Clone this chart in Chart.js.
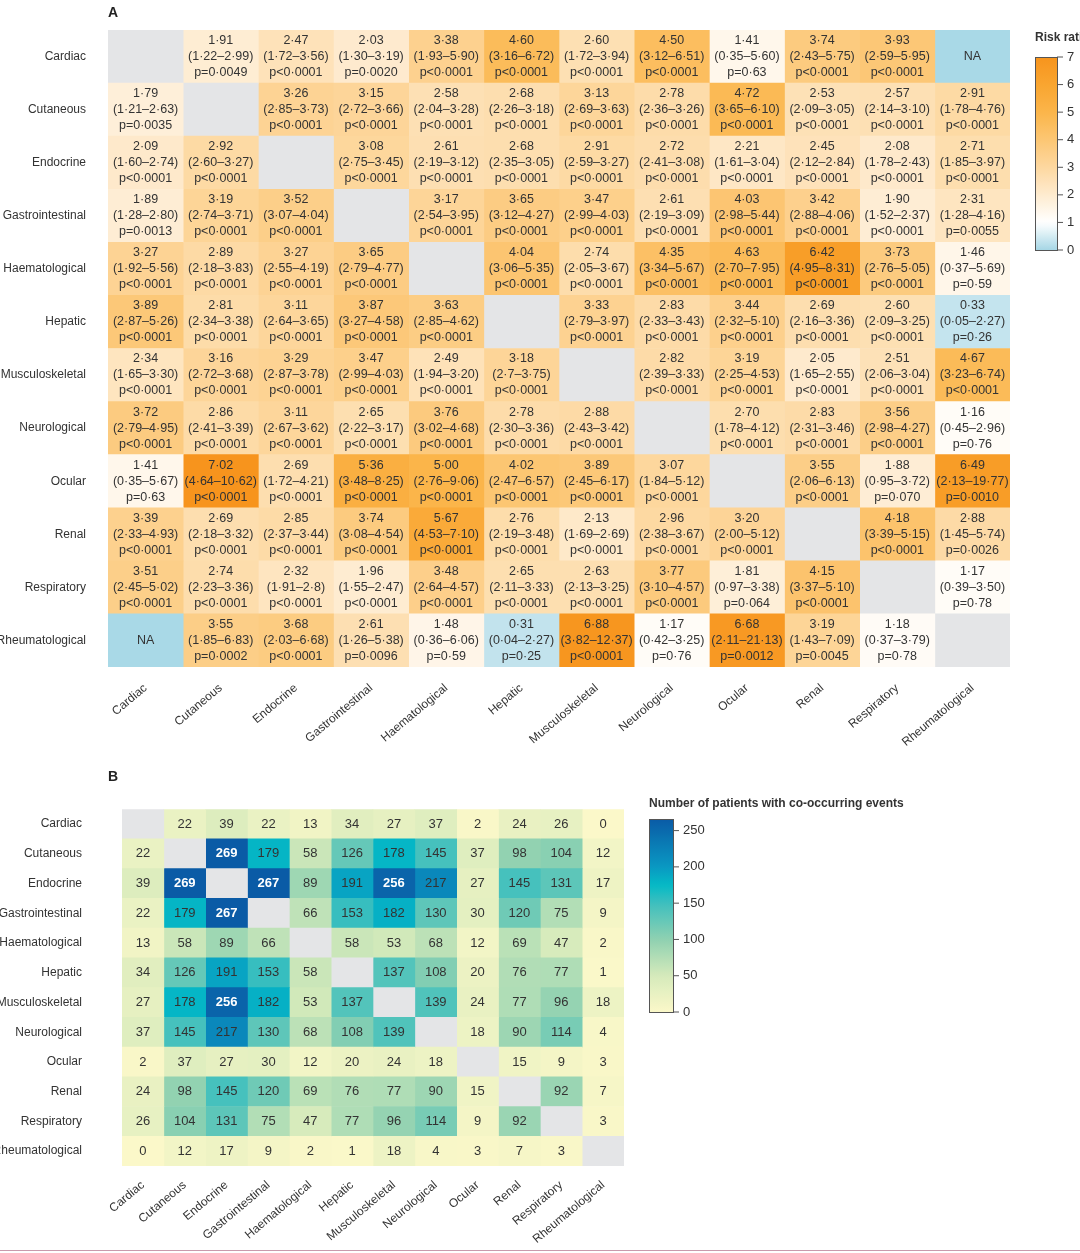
<!DOCTYPE html>
<html>
<head>
<meta charset="utf-8">
<script src="https://cdn.jsdelivr.net/npm/chart.js@4.4.1/dist/chart.umd.min.js"></script>
<style>
  body { margin: 0; background: #fff; width: 1080px; height: 1253px; position: relative; overflow: hidden; }
  canvas { position: absolute; left: 0; }
  #cA { top: 0; }
  #cB { top: 770px; }
  #rule { position: absolute; left: 0; top: 1250px; width: 1080px; height: 1px; background: #c99aac; }
</style>
</head>
<body>
<canvas id="cA" width="1080" height="760" style="width:1080px;height:760px"></canvas>
<canvas id="cB" width="1080" height="483" style="width:1080px;height:483px"></canvas>
<div id="rule"></div>
<script>
const organs = ["Cardiac", "Cutaneous", "Endocrine", "Gastrointestinal", "Haematological", "Hepatic",
    "Musculoskeletal", "Neurological", "Ocular", "Renal", "Respiratory", "Rheumatological"];

// Panel A: risk ratios, 95% CI and p values (row = organ, column = co-occurring organ); null = diagonal, "NA" = not available
const LT = "p<0·0001";
const riskRatio = [
    [null, "1·91", "2·47", "2·03", "3·38", "4·60", "2·60", "4·50", "1·41", "3·74", "3·93", "NA"],
    ["1·79", null, "3·26", "3·15", "2·58", "2·68", "3·13", "2·78", "4·72", "2·53", "2·57", "2·91"],
    ["2·09", "2·92", null, "3·08", "2·61", "2·68", "2·91", "2·72", "2·21", "2·45", "2·08", "2·71"],
    ["1·89", "3·19", "3·52", null, "3·17", "3·65", "3·47", "2·61", "4·03", "3·42", "1·90", "2·31"],
    ["3·27", "2·89", "3·27", "3·65", null, "4·04", "2·74", "4·35", "4·63", "6·42", "3·73", "1·46"],
    ["3·89", "2·81", "3·11", "3·87", "3·63", null, "3·33", "2·83", "3·44", "2·69", "2·60", "0·33"],
    ["2·34", "3·16", "3·29", "3·47", "2·49", "3·18", null, "2·82", "3·19", "2·05", "2·51", "4·67"],
    ["3·72", "2·86", "3·11", "2·65", "3·76", "2·78", "2·88", null, "2·70", "2·83", "3·56", "1·16"],
    ["1·41", "7·02", "2·69", "5·36", "5·00", "4·02", "3·89", "3·07", null, "3·55", "1·88", "6·49"],
    ["3·39", "2·69", "2·85", "3·74", "5·67", "2·76", "2·13", "2·96", "3·20", null, "4·18", "2·88"],
    ["3·51", "2·74", "2·32", "1·96", "3·48", "2·65", "2·63", "3·77", "1·81", "4·15", null, "1·17"],
    ["NA", "3·55", "3·68", "2·61", "1·48", "0·31", "6·88", "1·17", "6·68", "3·19", "1·18", null]
];
const riskCI = [
    [null, "1·22–2·99", "1·72–3·56", "1·30–3·19", "1·93–5·90", "3·16–6·72", "1·72–3·94", "3·12–6·51", "0·35–5·60", "2·43–5·75", "2·59–5·95", null],
    ["1·21–2·63", null, "2·85–3·73", "2·72–3·66", "2·04–3·28", "2·26–3·18", "2·69–3·63", "2·36–3·26", "3·65–6·10", "2·09–3·05", "2·14–3·10", "1·78–4·76"],
    ["1·60–2·74", "2·60–3·27", null, "2·75–3·45", "2·19–3·12", "2·35–3·05", "2·59–3·27", "2·41–3·08", "1·61–3·04", "2·12–2·84", "1·78–2·43", "1·85–3·97"],
    ["1·28–2·80", "2·74–3·71", "3·07–4·04", null, "2·54–3·95", "3·12–4·27", "2·99–4·03", "2·19–3·09", "2·98–5·44", "2·88–4·06", "1·52–2·37", "1·28–4·16"],
    ["1·92–5·56", "2·18–3·83", "2·55–4·19", "2·79–4·77", null, "3·06–5·35", "2·05–3·67", "3·34–5·67", "2·70–7·95", "4·95–8·31", "2·76–5·05", "0·37–5·69"],
    ["2·87–5·26", "2·34–3·38", "2·64–3·65", "3·27–4·58", "2·85–4·62", null, "2·79–3·97", "2·33–3·43", "2·32–5·10", "2·16–3·36", "2·09–3·25", "0·05–2·27"],
    ["1·65–3·30", "2·72–3·68", "2·87–3·78", "2·99–4·03", "1·94–3·20", "2·7–3·75", null, "2·39–3·33", "2·25–4·53", "1·65–2·55", "2·06–3·04", "3·23–6·74"],
    ["2·79–4·95", "2·41–3·39", "2·67–3·62", "2·22–3·17", "3·02–4·68", "2·30–3·36", "2·43–3·42", null, "1·78–4·12", "2·31–3·46", "2·98–4·27", "0·45–2·96"],
    ["0·35–5·67", "4·64–10·62", "1·72–4·21", "3·48–8·25", "2·76–9·06", "2·47–6·57", "2·45–6·17", "1·84–5·12", null, "2·06–6·13", "0·95–3·72", "2·13–19·77"],
    ["2·33–4·93", "2·18–3·32", "2·37–3·44", "3·08–4·54", "4·53–7·10", "2·19–3·48", "1·69–2·69", "2·38–3·67", "2·00–5·12", null, "3·39–5·15", "1·45–5·74"],
    ["2·45–5·02", "2·23–3·36", "1·91–2·8", "1·55–2·47", "2·64–4·57", "2·11–3·33", "2·13–3·25", "3·10–4·57", "0·97–3·38", "3·37–5·10", null, "0·39–3·50"],
    [null, "1·85–6·83", "2·03–6·68", "1·26–5·38", "0·36–6·06", "0·04–2·27", "3·82–12·37", "0·42–3·25", "2·11–21·13", "1·43–7·09", "0·37–3·79", null]
];
const riskP = [
    [null, "p=0·0049", LT, "p=0·0020", LT, LT, LT, LT, "p=0·63", LT, LT, null],
    ["p=0·0035", null, LT, LT, LT, LT, LT, LT, LT, LT, LT, LT],
    [LT, LT, null, LT, LT, LT, LT, LT, LT, LT, LT, LT],
    ["p=0·0013", LT, LT, null, LT, LT, LT, LT, LT, LT, LT, "p=0·0055"],
    [LT, LT, LT, LT, null, LT, LT, LT, LT, LT, LT, "p=0·59"],
    [LT, LT, LT, LT, LT, null, LT, LT, LT, LT, LT, "p=0·26"],
    [LT, LT, LT, LT, LT, LT, null, LT, LT, LT, LT, LT],
    [LT, LT, LT, LT, LT, LT, LT, null, LT, LT, LT, "p=0·76"],
    ["p=0·63", LT, LT, LT, LT, LT, LT, LT, null, LT, "p=0·070", "p=0·0010"],
    [LT, LT, LT, LT, LT, LT, LT, LT, LT, null, LT, "p=0·0026"],
    [LT, LT, LT, LT, LT, LT, LT, LT, "p=0·064", LT, null, "p=0·78"],
    [null, "p=0·0002", LT, "p=0·0096", "p=0·59", "p=0·25", LT, "p=0·76", "p=0·0012", "p=0·0045", "p=0·78", null]
];

// Panel B: number of patients with co-occurring events
const coCounts = [
    [null, 22, 39, 22, 13, 34, 27, 37, 2, 24, 26, 0],
    [22, null, 269, 179, 58, 126, 178, 145, 37, 98, 104, 12],
    [39, 269, null, 267, 89, 191, 256, 217, 27, 145, 131, 17],
    [22, 179, 267, null, 66, 153, 182, 130, 30, 120, 75, 9],
    [13, 58, 89, 66, null, 58, 53, 68, 12, 69, 47, 2],
    [34, 126, 191, 153, 58, null, 137, 108, 20, 76, 77, 1],
    [27, 178, 256, 182, 53, 137, null, 139, 24, 77, 96, 18],
    [37, 145, 217, 130, 68, 108, 139, null, 18, 90, 114, 4],
    [2, 37, 27, 30, 12, 20, 24, 18, null, 15, 9, 3],
    [24, 98, 145, 120, 69, 76, 77, 90, 15, null, 92, 7],
    [26, 104, 131, 75, 47, 77, 96, 114, 9, 92, null, 3],
    [0, 12, 17, 9, 2, 1, 18, 4, 3, 7, 3, null]
];

const riskTicks = [0, 1, 2, 3, 4, 5, 6, 7];
const countTicks = [0, 50, 100, 150, 200, 250];

const DIAG = "#e4e5e7";
const NA_COL = "#a9d9e7";
const riskStops = [[0, "#a6d6e5"], [0.7, "#e6f4f8"], [1, "#ffffff"], [2, "#feebcf"], [3, "#fdd8a0"],
    [4, "#fcc673"], [5, "#fbb54a"], [6, "#f9a530"], [7, "#f7941d"]];
const countStops = [[0, "#fbf8c9"], [50, "#d5eabb"], [100, "#8fd1b1"], [150, "#3ebfbe"], [175, "#04bac6"],
    [200, "#0a98c2"], [266, "#0a5ba6"]];

function hex(c) { return [1, 3, 5].map(i => parseInt(c.slice(i, i + 2), 16)); }
function colorAt(stops, v) {
    if (v <= stops[0][0]) return stops[0][1];
    for (let i = 1; i < stops.length; i++) {
        if (v <= stops[i][0]) {
            const [a, ca] = stops[i - 1], [b, cb] = stops[i];
            const t = (v - a) / (b - a), x = hex(ca), y = hex(cb);
            return "rgb(" + x.map((q, k) => Math.round(q + (y[k] - q) * t)).join(",") + ")";
        }
    }
    return stops[stops.length - 1][1];
}
function num(s) { return parseFloat(String(s).replace("·", ".")); }

const FONT = "'Liberation Sans', Arial, sans-serif";

function drawColorbar(ctx, o) {
    const { x, y0, y1, vmin, vmax, stops, ticks, title, tx, ty } = o;
    ctx.save();
    const g = ctx.createLinearGradient(0, y1, 0, y0);
    for (let i = 0; i <= 40; i++) {
        const v = vmin + (vmax - vmin) * i / 40;
        g.addColorStop(i / 40, colorAt(stops, v));
    }
    ctx.fillStyle = g;
    ctx.fillRect(x, y0, o.w, y1 - y0);
    ctx.strokeStyle = "#555"; ctx.lineWidth = 1;
    ctx.strokeRect(x + 0.5, y0 + 0.5, o.w, y1 - y0);
    ctx.fillStyle = "#333"; ctx.font = "13px " + FONT;
    ctx.textAlign = "left"; ctx.textBaseline = "middle";
    for (const t of ticks) {
        const py = y1 - (t - vmin) / (vmax - vmin) * (y1 - y0);
        ctx.beginPath(); ctx.moveTo(x + o.w, py); ctx.lineTo(x + o.w + 6, py); ctx.stroke();
        ctx.fillText(String(t), x + o.w + 10, py);
    }
    ctx.font = "bold 12px " + FONT; ctx.textBaseline = "alphabetic";
    ctx.fillText(title, tx, ty);
    ctx.restore();
}

function makeHeat(canvasId, cfg) {
    const datasets = organs.map((col, j) => ({
        label: col,
        data: organs.map(() => 1),
        backgroundColor: organs.map((row, i) => cfg.cellColor(i, j)),
        borderWidth: 0,
        barPercentage: 1,
        categoryPercentage: 1
    }));
    const textPlugin = {
        id: "cellText",
        afterDatasetsDraw(chart) {
            const ctx = chart.ctx;
            ctx.save();
            ctx.textAlign = "center"; ctx.textBaseline = "middle";
            chart.data.datasets.forEach((ds, j) => {
                chart.getDatasetMeta(j).data.forEach((bar, i) => {
                    const cx = (bar.x + bar.base) / 2, cy = bar.y;
                    cfg.cellText(ctx, i, j, cx, cy);
                });
            });
            ctx.restore();
        },
        afterDraw(chart) { cfg.extra(chart.ctx); }
    };
    return new Chart(document.getElementById(canvasId), {
        type: "bar",
        data: { labels: organs, datasets },
        options: {
            indexAxis: "y",
            responsive: false,
            animation: false,
            layout: { padding: cfg.padding },
            plugins: { legend: { display: false }, tooltip: { enabled: false } },
            scales: {
                x: {
                    type: "linear", stacked: true, min: 0, max: 12,
                    grid: { display: false }, border: { display: false },
                    afterBuildTicks: s => { s.ticks = organs.map((_, k) => ({ value: k + 0.5 })); },
                    afterFit: s => { s.height = cfg.xHeight; },
                    ticks: {
                        autoSkip: false, minRotation: 40, maxRotation: 40, padding: cfg.xPad,
                        color: "#333", font: { family: FONT, size: cfg.tickSize },
                        callback: v => organs[Math.floor(v)]
                    }
                },
                y: {
                    stacked: true,
                    grid: { display: false }, border: { display: false },
                    afterFit: s => { s.width = cfg.yWidth; },
                    ticks: { color: "#333", padding: cfg.yPad, font: { family: FONT, size: cfg.tickSize } }
                }
            }
        },
        plugins: [textPlugin]
    });
}

makeHeat("cA", {
    padding: { left: 0, top: 30, right: 70, bottom: 0 },
    xHeight: 93, yWidth: 108, xPad: 6, yPad: 14, tickSize: 12,
    cellColor: (i, j) => {
        const r = riskRatio[i][j];
        if (r === null) return DIAG;
        if (r === "NA") return NA_COL;
        return colorAt(riskStops, num(r));
    },
    cellText: (ctx, i, j, cx, cy) => {
        const r = riskRatio[i][j];
        if (r === null) return;
        ctx.fillStyle = "#333"; ctx.font = "12.5px " + FONT;
        if (r === "NA") { ctx.fillText("NA", cx, cy); return; }
        ctx.fillText(r, cx, cy - 16);
        ctx.fillText("(" + riskCI[i][j] + ")", cx, cy);
        ctx.fillText(riskP[i][j], cx, cy + 16);
    },
    extra: ctx => {
        ctx.save();
        ctx.fillStyle = "#222"; ctx.font = "bold 14px " + FONT;
        ctx.fillText("A", 108, 17);
        ctx.restore();
        drawColorbar(ctx, { x: 1035, w: 22, y0: 57, y1: 250, vmin: 0, vmax: 7, stops: riskStops,
            ticks: riskTicks, title: "Risk ratio", tx: 1035, ty: 41 });
    }
});

makeHeat("cB", {
    padding: { left: 0, top: 27, right: 456, bottom: 0 },
    xHeight: 87, yWidth: 122, xPad: 4, yPad: 32, tickSize: 12,
    cellColor: (i, j) => {
        const v = coCounts[i][j];
        return v === null ? DIAG : colorAt(countStops, v);
    },
    cellText: (ctx, i, j, cx, cy) => {
        const v = coCounts[i][j];
        if (v === null) return;
        ctx.fillStyle = v >= 240 ? "#fff" : "#333";
        ctx.font = (v >= 240 ? "bold " : "") + "13px " + FONT;
        ctx.fillText(String(v), cx, cy);
    },
    extra: ctx => {
        ctx.save();
        ctx.fillStyle = "#222"; ctx.font = "bold 14px " + FONT;
        ctx.fillText("B", 108, 11);
        ctx.restore();
        drawColorbar(ctx, { x: 649, w: 24, y0: 49, y1: 242, vmin: 0, vmax: 266, stops: countStops,
            ticks: countTicks, title: "Number of patients with co-occurring events", tx: 649, ty: 37 });
    }
});
</script>
</body>
</html>
